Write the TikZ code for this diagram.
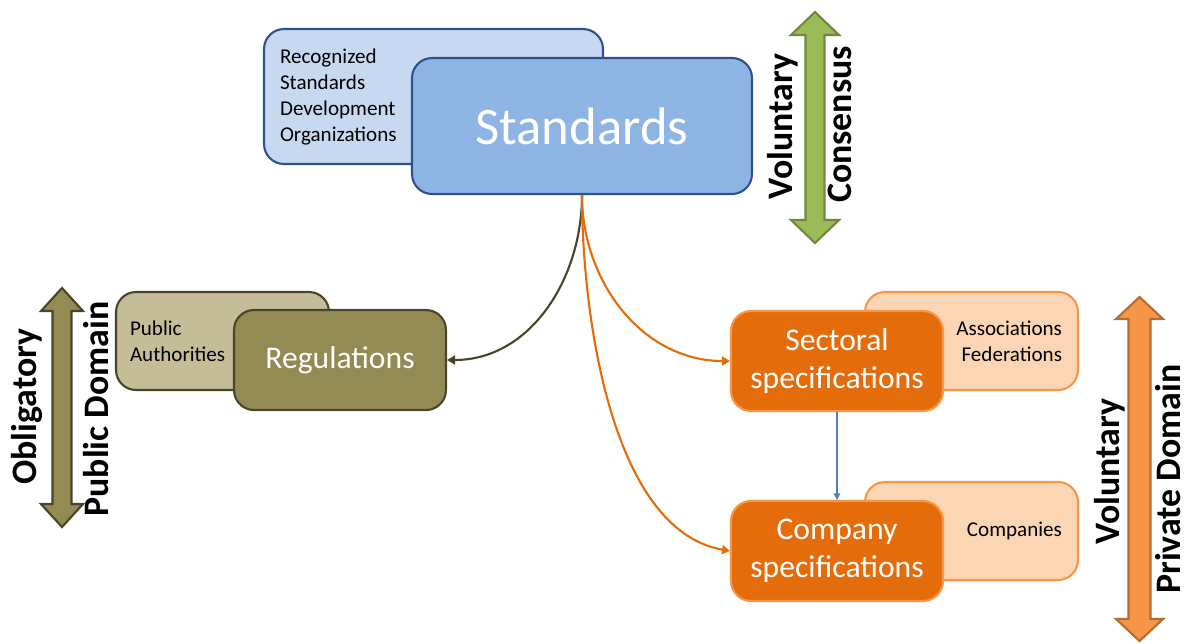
\documentclass[tikz,border=0pt]{standalone}
\usepackage{fontspec}
\setmainfont{Carlito}
\usetikzlibrary{arrows.meta}

\definecolor{sdoblue}{HTML}{C6D9F1}
\definecolor{stdblue}{HTML}{8EB4E3}
\definecolor{edgeblue}{HTML}{2F528F}
\definecolor{linkblue}{HTML}{4F81BD}
\definecolor{paleolive}{HTML}{C4BD97}
\definecolor{regolive}{HTML}{948A54}
\definecolor{darkolive}{HTML}{4A452A}
\definecolor{specorange}{HTML}{E46C0A}
\definecolor{lightorange}{HTML}{F79646}
\definecolor{paleorange}{HTML}{FCD5B5}
\definecolor{darkorange}{HTML}{B66D31}
\definecolor{arrowgreen}{HTML}{9BBB59}
\definecolor{darkgreen}{HTML}{71893F}

\tikzset{
    card/.style={rounded corners=0.4cm, line width=1.2pt, minimum width=4.24cm, minimum height=2cm, align=center},
    maincard/.style={card, text=white, font=\fontsize{18}{21.6}\selectfont},
    sidecard/.style={card, text=black, minimum width=4.26cm, minimum height=1.96cm, font=\fontsize{12}{14.8}\selectfont},
    axislabel/.style={rotate=90, inner sep=0pt, font=\fontsize{20.4}{24}\selectfont\bfseries},
    link/.style={line width=1.2pt, -{Triangle[length=1.6mm,width=1.8mm]}}
}

\begin{document}
\begin{tikzpicture}[x=0.02cm, y=-0.02cm]
        \useasboundingbox (0,0) rectangle (1189,643);
        % Bodies behind the main boxes
        \node[sidecard, fill=sdoblue, draw=edgeblue, minimum width=6.78cm, minimum height=2.7cm, inner xsep=0.32cm, text width=6.14cm, align=left] (sdo) at (433.5,96.5) {Recognized\\Standards\\Development\\Organizations};
        \node[sidecard, fill=paleolive, draw=darkolive, inner xsep=0.28cm, text width=3.7cm, align=left] (authorities) at (222.5,341) {Public\\Authorities};
        \node[sidecard, fill=paleorange, draw=lightorange, inner xsep=0.32cm, text width=3.62cm, align=right] (associations) at (971.5,341) {Associations\\Federations};
        \node[sidecard, fill=paleorange, draw=lightorange, inner xsep=0.32cm, text width=3.62cm, align=right] (companies) at (971.5,531) {Companies};
        % Main boxes
        \node[maincard, fill=stdblue, draw=edgeblue, minimum width=6.8cm, minimum height=2.72cm, font=\fontsize{30}{36}\selectfont] (standards) at (582,126) {Standards};
        \node[maincard, fill=regolive, draw=darkolive] (regulations) at (340,360) {Regulations};
        \node[maincard, fill=specorange, draw=lightorange] (sectoral) at (837,361) {Sectoral\\specifications};
        \node[maincard, fill=specorange, draw=lightorange] (company) at (837,551) {Company\\specifications};
        % Links out of the standards box
        \draw[link, darkolive] (standards.south) to[out=-90, in=0] (regulations.east);
        \draw[link, specorange] (standards.south) to[out=-90, in=180] (sectoral.west);
        \draw[link, specorange] (standards.south) to[out=-90, in=170, looseness=0.8] (company.west);
        \draw[linkblue, line width=0.6pt, -{Triangle[length=1.3mm,width=1.3mm]}] (sectoral) -- (company);
        % Double arrows at the sides
        \draw[fill=arrowgreen, draw=darkgreen, line width=1.2pt] (815,12) -- (839,35) -- (824.5,35) -- (824.5,220) -- (839,220) -- (815,243) -- (791,220) -- (805.5,220) -- (805.5,35) -- (791,35) -- cycle;
        \draw[fill=regolive, draw=darkolive, line width=1.2pt] (62,288) -- (83,311) -- (71.5,311) -- (71.5,504) -- (83,504) -- (62,527) -- (41,504) -- (52.5,504) -- (52.5,311) -- (41,311) -- cycle;
        \draw[fill=lightorange, draw=darkorange, line width=1.2pt] (1139.5,297) -- (1163,319) -- (1150.5,319) -- (1150.5,619) -- (1163,619) -- (1139.5,641) -- (1116,619) -- (1128.5,619) -- (1128.5,319) -- (1116,319) -- cycle;
        % Labels along the arrows
        \node[axislabel] (voluntarytop) at (783,126.5) {Voluntary};
        \node[axislabel] (consensus) at (840,124.5) {Consensus};
        \node[axislabel] (obligatory) at (27,406.5) {Obligatory};
        \node[axislabel] (publicdomain) at (96,409) {Public Domain};
        \node[axislabel] (voluntaryside) at (1110,471.5) {Voluntary};
        \node[axislabel] (privatedomain) at (1168,479) {Private Domain};
\end{tikzpicture}
\end{document}
